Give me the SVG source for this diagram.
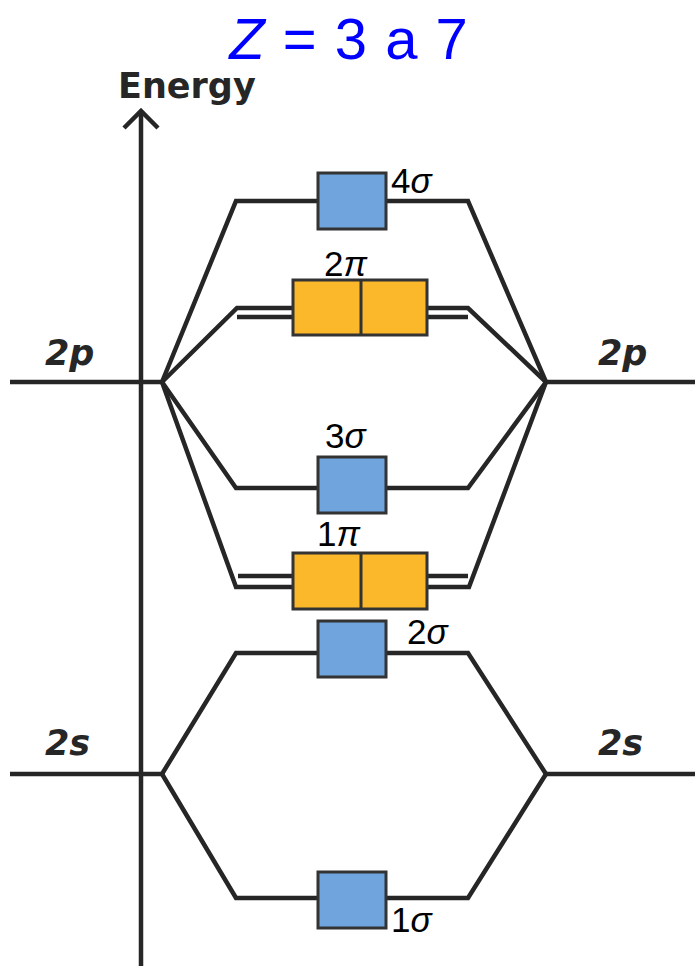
<svg xmlns="http://www.w3.org/2000/svg" width="695" height="966" viewBox="0 0 695 966">
<style>
.ln{fill:none;stroke:#262626;stroke-width:4.5;stroke-linejoin:miter;stroke-linecap:butt}
.sg{fill:#6fa4dc;stroke:#333;stroke-width:3}
.pi{fill:#fcb82b;stroke:#333;stroke-width:3}
.lbl{font-family:"Liberation Sans",Arial,sans-serif;font-size:35px;fill:#000}
.ax{font-family:"DejaVu Sans",sans-serif;font-weight:bold;fill:#262626}
</style>
<rect width="695" height="966" fill="#fff"/>
<text x="349" y="59" text-anchor="middle" font-family="Liberation Sans, Arial, sans-serif" font-size="58" fill="#0000ff" letter-spacing="1"><tspan font-style="italic">Z</tspan> = 3 a 7</text>
<g id="axis">
<line class="ln" x1="141" y1="112" x2="141" y2="966"/>
<polyline class="ln" points="124,128 141,111 158,128" stroke-width="5"/>
<text class="ax" x="118" y="98" font-size="35">Energy</text>
</g>
<g id="connectors">
<polyline class="ln" points="10,382 162,382"/>
<polyline class="ln" points="546,382 695,382"/>
<polyline class="ln" points="10,774 162,774"/>
<polyline class="ln" points="546,774 695,774"/>
<polyline class="ln" points="162,382 236,201 468,201 546,382"/>
<polyline class="ln" points="162,382 237,308 468,308 546,382"/>
<line class="ln" x1="237" y1="317" x2="468" y2="317"/>
<polyline class="ln" points="162,382 236,488 468,488 546,382"/>
<polyline class="ln" points="162,382 236,587 469,587 546,382"/>
<line class="ln" x1="238" y1="576" x2="468" y2="576"/>
<polyline class="ln" points="162,774 236,653 468,653 546,774"/>
<polyline class="ln" points="162,774 236,898 468,898 546,774"/>
</g>
<g id="level-2p-left"><text class="ax" x="45" y="365" font-size="35" font-style="italic">2p</text></g>
<g id="level-2p-right"><text class="ax" x="598" y="365" font-size="35" font-style="italic">2p</text></g>
<g id="level-2s-left"><text class="ax" x="45" y="755" font-size="35" font-style="italic">2s</text></g>
<g id="level-2s-right"><text class="ax" x="598" y="755" font-size="35" font-style="italic">2s</text></g>
<g id="mo-4sigma">
<rect class="sg" x="318" y="173" width="68" height="56"/>
<text class="lbl" x="391" y="193">4<tspan font-style="italic">σ</tspan></text>
</g>
<g id="mo-2pi">
<rect class="pi" x="293" y="280" width="134" height="55"/>
<line x1="361" y1="280" x2="361" y2="335" stroke="#333" stroke-width="3"/>
<text class="lbl" x="324" y="276">2<tspan font-style="italic">π</tspan></text>
</g>
<g id="mo-3sigma">
<rect class="sg" x="318" y="457" width="68" height="56"/>
<text class="lbl" x="325" y="448">3<tspan font-style="italic">σ</tspan></text>
</g>
<g id="mo-1pi">
<rect class="pi" x="293" y="553" width="134" height="56"/>
<line x1="361" y1="553" x2="361" y2="609" stroke="#333" stroke-width="3"/>
<text class="lbl" x="317" y="546">1<tspan font-style="italic">π</tspan></text>
</g>
<g id="mo-2sigma">
<rect class="sg" x="318" y="621" width="68" height="56"/>
<text class="lbl" x="407" y="644">2<tspan font-style="italic">σ</tspan></text>
</g>
<g id="mo-1sigma">
<rect class="sg" x="318" y="872" width="68" height="56"/>
<text class="lbl" x="391" y="932">1<tspan font-style="italic">σ</tspan></text>
</g>
</svg>
